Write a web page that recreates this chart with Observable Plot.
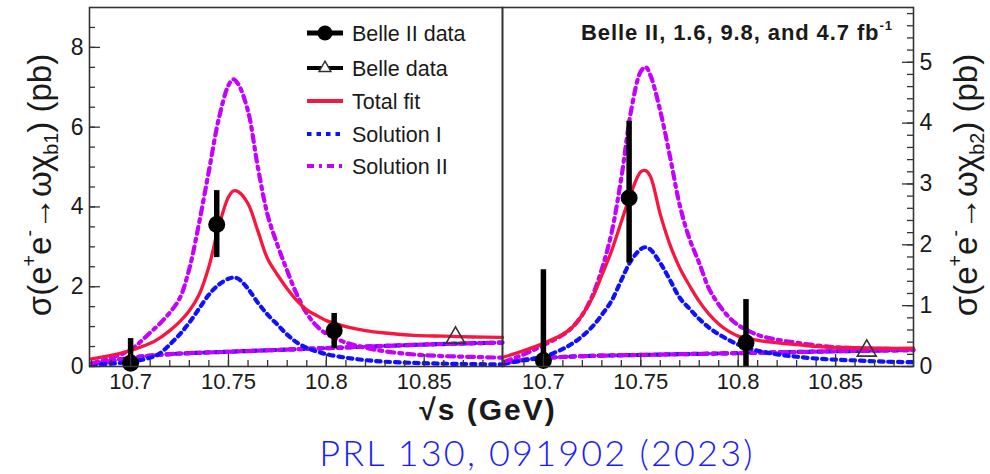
<!DOCTYPE html>
<html><head><meta charset="utf-8">
<script src="https://cdn.jsdelivr.net/npm/d3@7"></script>
<script src="https://cdn.jsdelivr.net/npm/@observablehq/plot@0.6"></script>
<style>
body{margin:0;background:#fff;}
#wrap{position:relative;width:990px;height:474px;overflow:hidden;font-family:"Liberation Sans",Arial,Helvetica,sans-serif;color:#1a1a1a;}
#wrap svg{position:absolute;top:0;}
.ov{position:absolute;white-space:nowrap;}
.ylab{font-size:33px;width:340px;height:44px;line-height:44px;text-align:center;transform:rotate(-90deg);}
sup{font-size:.6em;vertical-align:.75em;line-height:0;}
sub{font-size:.6em;vertical-align:-.35em;line-height:0;}
</style></head><body><div id="wrap"></div>
<script>
// ---------- data ----------
const xTickLabels = [10.7, 10.75, 10.8, 10.85];
const xMinorTicks = [10.68,10.69,10.70,10.71,10.72,10.73,10.74,10.75,10.76,10.77,10.78,10.79,10.80,10.81,10.82,10.83,10.84,10.85,10.86,10.87,10.88,10.89];
const yLeftLabels = [0, 2, 4, 6, 8];
const yLeftMinor = [0,0.5,1,1.5,2,2.5,3,3.5,4,4.5,5,5.5,6,6.5,7,7.5,8,8.5];
const yRightLabels = [0, 1, 2, 3, 4, 5];
const yRightMinor = [0,0.2,0.4,0.6,0.8,1,1.2,1.4,1.6,1.8,2,2.2,2.4,2.6,2.8,3,3.2,3.4,3.6,3.8,4,4.2,4.4,4.6,4.8,5,5.2,5.4,5.6,5.8];

// energy grid of the fit curves (GeV)
const grid = [10.68,10.69,10.70,10.71,10.715,10.72,10.725,10.73,10.735,10.74,10.745,10.75,10.7525,10.755,10.76,10.765,10.77,10.775,10.78,10.785,10.79,10.795,10.80,10.81,10.82,10.83,10.845,10.86,10.875,10.89];
const contGrid = [10.68,10.69,10.70,10.72,10.75,10.80,10.85,10.89];

// left panel: omega chi_b1
const b1Total = [0.19,0.28,0.40,0.58,0.72,0.90,1.12,1.40,1.80,2.50,3.50,4.25,4.40,4.38,4.08,3.40,2.70,2.30,1.95,1.65,1.42,1.28,1.15,1.00,0.90,0.84,0.78,0.76,0.74,0.73];
const b1SolI  = [0.04,0.07,0.12,0.22,0.33,0.55,0.80,1.10,1.45,1.80,2.05,2.20,2.23,2.20,1.95,1.60,1.30,1.05,0.80,0.60,0.47,0.38,0.31,0.22,0.16,0.12,0.09,0.07,0.06,0.05];
const b1SolII = [0.08,0.22,0.42,0.85,1.08,1.35,1.70,2.45,3.60,4.90,6.20,7.05,7.20,7.08,6.40,5.00,3.80,3.05,2.40,1.80,1.33,1.02,0.82,0.60,0.47,0.38,0.30,0.26,0.24,0.22];
const b1Cont  = [0.05,0.14,0.22,0.31,0.37,0.46,0.55,0.60];
const b1DataX = [10.700, 10.744, 10.804];
const b1DataY = [0.08, 3.56, 0.90];
const b1DataLo = [0.00, 2.73, 0.45];
const b1DataHi = [0.70, 4.41, 1.33];
const b1BelleX = [10.866];
const b1BelleY = [0.72];

// right panel: omega chi_b2
const b2Total = [0.16,0.26,0.38,0.53,0.65,0.85,1.12,1.50,1.90,2.38,2.85,3.20,3.22,3.12,2.50,2.00,1.62,1.33,1.07,0.86,0.70,0.58,0.50,0.43,0.39,0.36,0.32,0.31,0.30,0.30];
const b2SolI  = [0.05,0.10,0.16,0.29,0.38,0.50,0.65,0.85,1.08,1.42,1.74,1.93,1.96,1.92,1.70,1.42,1.13,0.95,0.78,0.64,0.53,0.44,0.36,0.26,0.20,0.16,0.12,0.10,0.08,0.07];
const b2SolII = [0.08,0.20,0.35,0.52,0.65,0.85,1.15,1.60,2.20,3.10,4.20,4.85,4.92,4.78,4.20,3.45,2.65,2.10,1.70,1.28,1.02,0.82,0.68,0.52,0.44,0.39,0.33,0.30,0.29,0.28];
const b2Cont  = [0.05,0.11,0.14,0.17,0.19,0.22,0.25,0.27];
const b2DataX = [10.700, 10.744, 10.804];
const b2DataY = [0.10, 2.77, 0.39];
const b2DataLo = [0.00, 1.70, 0.00];
const b2DataHi = [1.59, 4.03, 1.10];
const b2BelleX = [10.866];
const b2BelleY = [0.26];

// ---------- styles ----------
const RED = "#f7163f", BLUE = "#1010ff", MAG = "#c400ff";
const DOT = "4.5,5", DASHDOT = "7,5,3,5";
const LW = 4.2;
const XDOM = [10.679, 10.89];
const H = 400, MT = 7, MB = 34;
const FH = H - MT - MB;

const toRows = (xs, ys) => xs.map((x, i) => ({x, y: ys[i]}));

function panel(o) {
  const FW = o.width - o.ml - o.mr;
  const left = o.side === "left";
  const curves = [
    Plot.line(toRows(contGrid, o.cont), {x: "x", y: "y", stroke: BLUE, strokeWidth: LW, strokeDasharray: DOT, curve: "catmull-rom"}),
    Plot.line(toRows(contGrid, o.cont), {x: "x", y: "y", stroke: MAG, strokeWidth: LW, strokeDasharray: DASHDOT, strokeDashoffset: 4, curve: "catmull-rom"}),
    Plot.line(toRows(grid, o.solI), {x: "x", y: "y", stroke: BLUE, strokeWidth: LW, strokeDasharray: DOT, curve: "catmull-rom"}),
    Plot.line(toRows(grid, o.solII), {x: "x", y: "y", stroke: MAG, strokeWidth: LW, strokeDasharray: DASHDOT, curve: "catmull-rom"}),
    Plot.line(toRows(grid, o.total), {x: "x", y: "y", stroke: RED, strokeWidth: 3.3, curve: "catmull-rom"})
  ];
  const pts = o.dx.map((x, i) => ({x, y: o.dy[i], lo: o.lo[i], hi: o.hi[i]}));
  const belle = toRows(o.bx, o.by);
  return Plot.plot({
    width: o.width, height: H,
    marginTop: MT, marginBottom: MB, marginLeft: o.ml, marginRight: o.mr,
    x: {domain: XDOM},
    y: {domain: o.ydom},
    style: {background: "transparent", fontFamily: "Liberation Sans, Arial, sans-serif", color: "#1a1a1a", overflow: "visible"},
    marks: [
      ...curves,
      Plot.ruleX(pts, {x: "x", y1: "lo", y2: "hi", stroke: "#000", strokeWidth: 5.5}),
      Plot.dot(pts, {x: "x", y: "y", r: 8.5, fill: "#000"}),
      Plot.dot(belle, {x: "x", y: "y", symbol: "triangle", r: 7, fill: "none", stroke: "#333", strokeWidth: 1.6}),
      // inward ticks
      Plot.tickX(xMinorTicks, {x: d => d, insetTop: FH - 6, stroke: "#333", strokeWidth: 1.3}),
      Plot.tickX(xTickLabels, {x: d => d, insetTop: FH - 12, stroke: "#333", strokeWidth: 1.3}),
      left
        ? Plot.tickY(o.yMinor, {y: d => d, insetRight: FW - 6, stroke: "#333", strokeWidth: 1.3})
        : Plot.tickY(o.yMinor, {y: d => d, insetLeft: FW - 6, stroke: "#333", strokeWidth: 1.3}),
      left
        ? Plot.tickY(o.yMajor, {y: d => d, insetRight: FW - 11, stroke: "#333", strokeWidth: 1.3})
        : Plot.tickY(o.yMajor, {y: d => d, insetLeft: FW - 11, stroke: "#333", strokeWidth: 1.3}),
      Plot.axisX(xTickLabels, {tickSize: 0, tickPadding: 7, fontSize: 22, tickFormat: d => String(d), label: null}),
      Plot.axisY(o.yMajor, {anchor: left ? "left" : "right", tickSize: 0, tickPadding: 6, fontSize: 23, tickFormat: d => String(d), label: null}),
      Plot.frame({stroke: "#333", strokeWidth: 1.6})
    ]
  });
}

const wrap = document.getElementById("wrap");
const pl = panel({side: "left", width: 503, ml: 89, mr: 1, ydom: [0, 9], yMajor: yLeftLabels, yMinor: yLeftMinor,
  total: b1Total, solI: b1SolI, solII: b1SolII, cont: b1Cont, dx: b1DataX, dy: b1DataY, lo: b1DataLo, hi: b1DataHi, bx: b1BelleX, by: b1BelleY});
pl.style.left = "0px";
const pr = panel({side: "right", width: 498, ml: 10, mr: 77, ydom: [0, 5.9], yMajor: yRightLabels, yMinor: yRightMinor,
  total: b2Total, solI: b2SolI, solII: b2SolII, cont: b2Cont, dx: b2DataX, dy: b2DataY, lo: b2DataLo, hi: b2DataHi, bx: b2BelleX, by: b2BelleY});
pr.style.left = "492px";
wrap.appendChild(pl);
wrap.appendChild(pr);

// ---------- text overlays ----------
function ov(html, css) {
  const d = document.createElement("div");
  d.className = "ov";
  d.innerHTML = html;
  Object.assign(d.style, css);
  wrap.appendChild(d);
  return d;
}
ov('σ(e<sup>+</sup>e<sup>-</sup>→ωχ<sub>b1</sub>) (pb)', {left: (40 - 170) + "px", top: (185 - 22) + "px"}).classList.add("ylab");
ov('σ(e<sup>+</sup>e<sup>-</sup>→ωχ<sub>b2</sub>) (pb)', {left: (966 - 170) + "px", top: (185 - 22) + "px"}).classList.add("ylab");
ov('Belle II, 1.6, 9.8, and 4.7 fb<sup>-1</sup>', {right: "97px", top: "19px", fontSize: "22px", fontWeight: "bold", lineHeight: "28px", letterSpacing: "0.9px"});
ov('√s (GeV)', {left: "0px", width: "976px", textAlign: "center", top: "394px", fontSize: "30px", fontWeight: "bold", lineHeight: "32px", letterSpacing: "2px"});
ov('PRL 130, 091902 (2023)', {left: "0px", width: "1074px", textAlign: "center", top: "431px", fontSize: "36px", lineHeight: "42px", letterSpacing: "2.2px", color: "#1a1aff", fontFamily: "Lato, 'Noto Sans', sans-serif", fontWeight: "300"});

// ---------- legend ----------
const legendItems = [
  {label: "Belle II data", kind: "circle"},
  {label: "Belle data", kind: "triangle"},
  {label: "Total fit", kind: "line", color: RED, dash: null},
  {label: "Solution I", kind: "line", color: BLUE, dash: DOT},
  {label: "Solution II", kind: "line", color: MAG, dash: DASHDOT}
];
const legendRowY = [33, 68, 101, 134, 166];
const lg = d3.create("svg").attr("width", 200).attr("height", 170)
  .style("left", "300px").style("top", "10px").style("overflow", "visible");
legendItems.forEach((it, i) => {
  const y = legendRowY[i] - 10;
  const g = lg.append("g");
  if (it.kind === "line") {
    g.append("line").attr("x1", 7).attr("x2", 43).attr("y1", y).attr("y2", y)
      .attr("stroke", it.color).attr("stroke-width", 4).attr("stroke-dasharray", it.dash);
  } else {
    g.append("line").attr("x1", 7).attr("x2", 43).attr("y1", y).attr("y2", y)
      .attr("stroke", "#000").attr("stroke-width", it.kind === "circle" ? 5 : 4);
    if (it.kind === "circle") {
      g.append("circle").attr("cx", 25).attr("cy", y).attr("r", 7.5).attr("fill", "#000");
    } else {
      g.append("path").attr("d", d3.symbol(d3.symbolTriangle2, 100)()).attr("transform", `translate(25,${y})`)
        .attr("fill", "#fff").attr("stroke", "#333").attr("stroke-width", 1.5);
    }
  }
  g.append("text").attr("x", 52).attr("y", y).attr("dy", "0.36em")
    .attr("font-size", 21.5).attr("fill", "#1a1a1a")
    .attr("font-family", "Liberation Sans, Arial, sans-serif").text(it.label);
});
wrap.appendChild(lg.node());
</script></body></html>
